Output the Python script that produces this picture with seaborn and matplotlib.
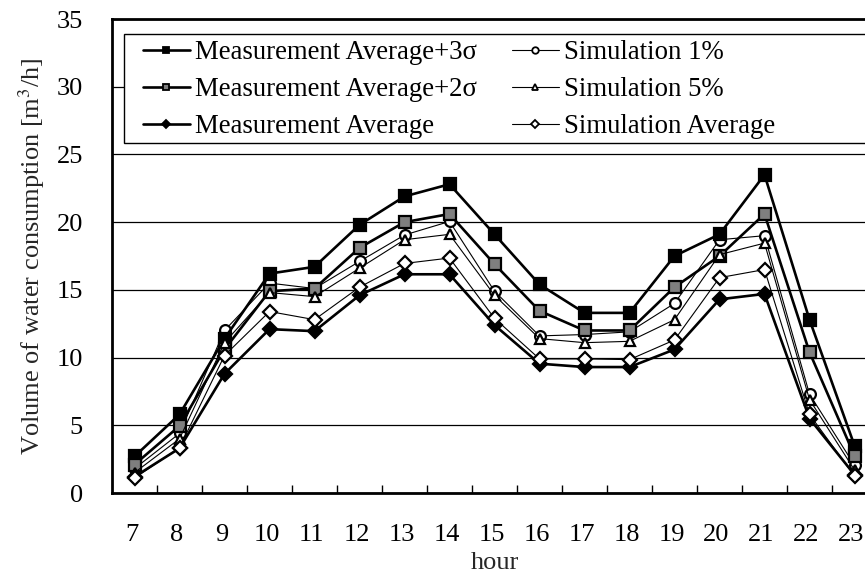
import matplotlib
matplotlib.use('Agg')
import matplotlib.pyplot as plt
import matplotlib.transforms as mtransforms
import seaborn as sns
import pandas as pd
from matplotlib.lines import Line2D
from matplotlib.patches import Rectangle

# ---------------- data ----------------
hours = list(range(7, 24))
meas_3sigma = [2.7, 5.8, 11.4, 16.2, 16.7, 19.8, 21.9, 22.8, 19.1, 15.4, 13.3, 13.3, 17.5, 19.1, 23.5, 12.8, 3.5]
meas_2sigma = [2.1, 4.95, 10.6, 14.9, 15.1, 18.1, 20.0, 20.6, 16.9, 13.45, 12.0, 12.0, 15.2, 17.5, 20.6, 10.4, 2.75]
meas_avg = [1.2, 3.3, 8.8, 12.1, 11.95, 14.6, 16.15, 16.15, 12.4, 9.55, 9.3, 9.3, 10.6, 14.3, 14.7, 5.5, 1.35]
sim_1pct = [1.8, 4.4, 12.0, 15.5, 15.1, 17.1, 19.05, 20.05, 14.9, 11.6, 11.7, 11.9, 14.0, 18.7, 19.0, 7.3, 2.05]
sim_5pct = [1.5, 4.0, 11.1, 14.8, 14.5, 16.6, 18.7, 19.1, 14.6, 11.4, 11.1, 11.2, 12.8, 17.6, 18.45, 6.9, 1.7]
sim_avg = [1.1, 3.35, 10.15, 13.4, 12.8, 15.2, 16.95, 17.35, 12.9, 9.9, 9.9, 9.85, 11.3, 15.9, 16.5, 5.8, 1.25]

labels = ["Measurement Average+3σ", "Measurement Average+2σ", "Measurement Average",
          "Simulation 1%", "Simulation 5%", "Simulation Average"]
y_ticks = list(range(0, 36, 5))

# ---------------- style ----------------
sns.set_theme(style='white')
plt.rcParams['font.family'] = ['Liberation Serif', 'DejaVu Serif']
plt.rcParams['mathtext.fontset'] = 'stix'

W, H = 865, 574
fig = plt.figure(figsize=(W / 100, H / 100), dpi=100)
fig.patch.set_facecolor('white')
x0, x1, yt, yb = 112, 877, 19, 493
ax = fig.add_axes([x0 / W, (H - yb) / H, (x1 - x0) / W, (yb - yt) / H])
ax.set_facecolor('white')

# series styles: (values, marker, face, size, lw, zorder)
styles = [
    (meas_3sigma, 's', 'black', 8.3, 1.9, 4),
    (meas_2sigma, 's', '#7f7f7f', 8.3, 1.9, 4),
    (meas_avg, 'D', 'black', 6.8, 1.9, 4),
    (sim_1pct, 'o', 'white', 7.8, 0.8, 3),
    (sim_5pct, '^', 'white', 7.8, 0.8, 5),
    (sim_avg, 'D', 'white', 6.8, 0.8, 5),
]

for (vals, mk, fc, ms, lw, z), lab in zip(styles, labels):
    df = pd.DataFrame({'hour': hours, 'value': vals})
    sns.lineplot(data=df, x='hour', y='value', ax=ax, color='black', lw=lw,
                 marker=mk, markersize=ms, markerfacecolor=fc,
                 markeredgecolor='black', markeredgewidth=1.6, zorder=z,
                 legend=False)

ax.set_xlim(6.5, 23.5)
ax.set_ylim(0, 35)
ax.set_yticks(y_ticks)
ax.set_xticks(hours)
ax.set_xticks([h + 0.5 for h in hours[:-1]], minor=True)
ax.set_xlabel('')
ax.set_ylabel('')
ax.yaxis.grid(True, color='black', lw=0.9, zorder=0)
ax.xaxis.grid(False)
ax.set_axisbelow(True)
ax.tick_params(axis='y', which='major', length=0, pad=21, labelsize=19, labelcolor='black')
ax.tick_params(axis='x', which='major', length=0, pad=22, labelsize=19, labelcolor='black')
ax.tick_params(axis='x', which='minor', direction='in', length=6, width=1, color='black', bottom=True)
offset = mtransforms.ScaledTranslation(-0.03, 0, fig.dpi_scale_trans)
for lbl in ax.get_xticklabels():
    lbl.set_transform(lbl.get_transform() + offset)
for s in ['left', 'top', 'bottom']:
    ax.spines[s].set_color('black')
    ax.spines[s].set_linewidth(2)
ax.spines['right'].set_visible(False)

fig.text(32 / W, 1 - 256 / H, 'Volume of water consumption [m$^3$/h]', rotation=90,
         ha='center', va='center', fontsize=19)
fig.text(494.5 / W, 1 - 563 / H, 'hour', ha='center', va='center', fontsize=19)

# legend frame
rect = Rectangle((124 / W, 1 - 143 / H), (900 - 124) / W, (143 - 34) / H,
                 transform=fig.transFigure, facecolor='white', edgecolor='black',
                 lw=1.0, zorder=4)
fig.add_artist(rect)

handles = []
for (vals, mk, fc, ms, lw, z) in styles:
    handles.append(Line2D([], [], color='black', lw=lw, marker=mk, markersize=ms * 0.6,
                          markerfacecolor=fc, markeredgecolor='black', markeredgewidth=1.3))
leg = fig.legend(handles, labels, loc='upper left', bbox_to_anchor=(143 / W, 1 - 40 / H),
                 bbox_transform=fig.transFigure, ncol=2, frameon=False, fontsize=19.3,
                 borderpad=0, borderaxespad=0, handlelength=1.75, handletextpad=0.2,
                 columnspacing=1.3, labelspacing=0.45)
leg.set_zorder(5)
for t in leg.get_texts():
    t.set_color('black')

fig.savefig('out.png', dpi=100, facecolor='white')
